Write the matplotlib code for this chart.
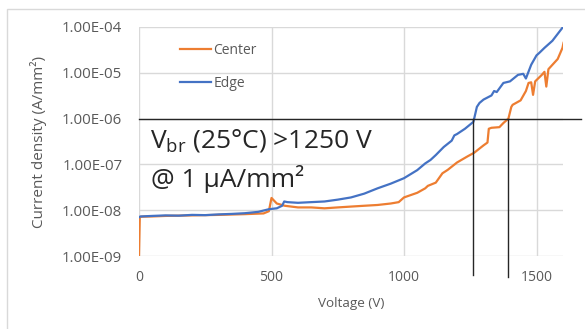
import numpy as np
import matplotlib.pyplot as plt
from matplotlib.patches import Rectangle
from matplotlib.ticker import FuncFormatter

plt.rcParams['font.family'] = ['Open Sans', 'DejaVu Sans']
plt.rcParams['mathtext.fontset'] = 'custom'
plt.rcParams['mathtext.rm'] = 'Open Sans'

# Edge (blue) data
edge_v = [0, 5, 50, 100, 150, 200, 250, 300, 350, 400, 450, 490, 520, 540, 548, 560,
          600, 650, 700, 750, 800, 850, 900, 950, 1000, 1050, 1080, 1100, 1120, 1150,
          1180, 1190, 1200, 1230, 1262, 1275, 1285, 1300, 1330, 1340, 1350, 1375, 1400,
          1430, 1450, 1460, 1480, 1500, 1510, 1530, 1560, 1600]
edge_j = [7e-9, 7.3e-9, 7.5e-9, 7.7e-9, 7.6e-9, 7.9e-9, 7.8e-9, 8.1e-9, 8.3e-9, 8.6e-9,
          9.2e-9, 1.05e-8, 1.1e-8, 1.25e-8, 1.55e-8, 1.5e-8, 1.45e-8, 1.5e-8, 1.55e-8,
          1.7e-8, 1.9e-8, 2.3e-8, 3e-8, 3.8e-8, 5e-8, 7.5e-8, 1.05e-7, 1.25e-7, 1.6e-7,
          2.4e-7, 3.3e-7, 4.3e-7, 4.6e-7, 6e-7, 8.5e-7, 1.8e-6, 2.2e-6, 2.6e-6, 3.2e-6,
          4.0e-6, 3.8e-6, 6e-6, 6.5e-6, 9e-6, 9.5e-6, 7.5e-6, 1.5e-5, 2.4e-5, 2.7e-5,
          3.5e-5, 5e-5, 1e-4]

# Center (orange) data
center_v = [0, 3, 8, 50, 100, 200, 300, 400, 470, 490, 500, 520, 550, 600, 650, 700,
            750, 800, 850, 900, 950, 980, 1000, 1050, 1080, 1090, 1120, 1145, 1165, 1200,
            1240, 1265, 1300, 1315, 1320, 1330, 1360, 1375, 1394, 1405, 1410, 1440, 1460,
            1470, 1480, 1487, 1495, 1520, 1530, 1537, 1545, 1580, 1598, 1602]
center_j = [1e-9, 7e-9, 7.2e-9, 7.3e-9, 7.5e-9, 7.7e-9, 7.9e-9, 8.2e-9, 8.5e-9, 9.5e-9,
            1.85e-8, 1.4e-8, 1.25e-8, 1.15e-8, 1.15e-8, 1.1e-8, 1.15e-8, 1.2e-8, 1.25e-8,
            1.3e-8, 1.4e-8, 1.5e-8, 1.9e-8, 2.4e-8, 3e-8, 3.4e-8, 4e-8, 6.4e-8, 7.6e-8,
            1.1e-7, 1.5e-7, 1.8e-7, 2.6e-7, 3e-7, 6e-7, 6.3e-7, 6.5e-7, 8e-7, 1e-6, 1.8e-6,
            2e-6, 2.5e-6, 4e-6, 6e-6, 6.2e-6, 3.3e-6, 6.5e-6, 9e-6, 1.05e-5, 5e-6, 1.2e-5,
            2e-5, 3.5e-5, 4.5e-5]

# breakdown markers
j_ref = 1e-6
vbr_edge = 1262
vbr_center = 1394

fig = plt.figure(figsize=(5.85, 3.29), dpi=100)
W, H = 585, 329
ax = fig.add_axes([139 / W, 1 - 256 / H, (563 - 139) / W, (256 - 27) / H])

ax.plot(center_v, center_j, color='#ED7D31', lw=1.6, label='Center')
ax.plot(edge_v, edge_j, color='#4472C4', lw=1.6, label='Edge')

ax.set_yscale('log')
ax.set_xlim(0, 1600)
ax.set_ylim(1e-9, 1e-4)
ax.set_xticks([0, 500, 1000, 1500])
ax.set_yticks([1e-9, 1e-8, 1e-7, 1e-6, 1e-5, 1e-4])
ax.yaxis.set_minor_locator(plt.NullLocator())
ax.yaxis.set_major_formatter(FuncFormatter(lambda v, p: '%.2E' % v))
ax.grid(True, color='#D9D9D9', lw=1)
ax.set_axisbelow(True)
for s in ax.spines.values():
    s.set_visible(False)
ax.tick_params(length=0, labelsize=10, labelcolor='#595959')
ax.tick_params(axis='y', pad=12, labelsize=10.8)
ax.tick_params(axis='x', pad=10)
ax.set_xlabel('Voltage (V)', fontsize=9.7, color='#595959', labelpad=9)
ax.set_ylabel('Current density (A/mm²)', fontsize=11, color='#595959', labelpad=11)

# reference lines
ax.plot([0, 1668], [j_ref, j_ref], color='#262626', lw=1, clip_on=False)
ax.plot([vbr_edge, vbr_edge], [j_ref, 3.9e-10], color='#262626', lw=1, clip_on=False)
ax.plot([vbr_center, vbr_center], [j_ref, 3.5e-10], color='#262626', lw=1, clip_on=False)

leg = fig.legend(loc='upper left', bbox_to_anchor=(180 / W, 1 - 43 / H), frameon=False,
                 fontsize=10, handlelength=2.2, handletextpad=0.2, labelspacing=1.3,
                 borderpad=0, borderaxespad=0)
for t in leg.get_texts():
    t.set_color('#595959')

fig.text(150 / W, 1 - 147 / H, 'V$_{\\mathrm{br}}$ (25°C) >1250 V', fontsize=19,
         color='#262626', va='baseline')
fig.text(151 / W, 1 - 187 / H, '@ 1 µA/mm²', fontsize=19, color='#262626', va='baseline')

fig.add_artist(Rectangle((7 / W, -0.1), 1, 1 - 9 / H + 0.1, transform=fig.transFigure,
                         fill=False, edgecolor='#D9D9D9', lw=1))

fig.savefig('out.png', dpi=100)
